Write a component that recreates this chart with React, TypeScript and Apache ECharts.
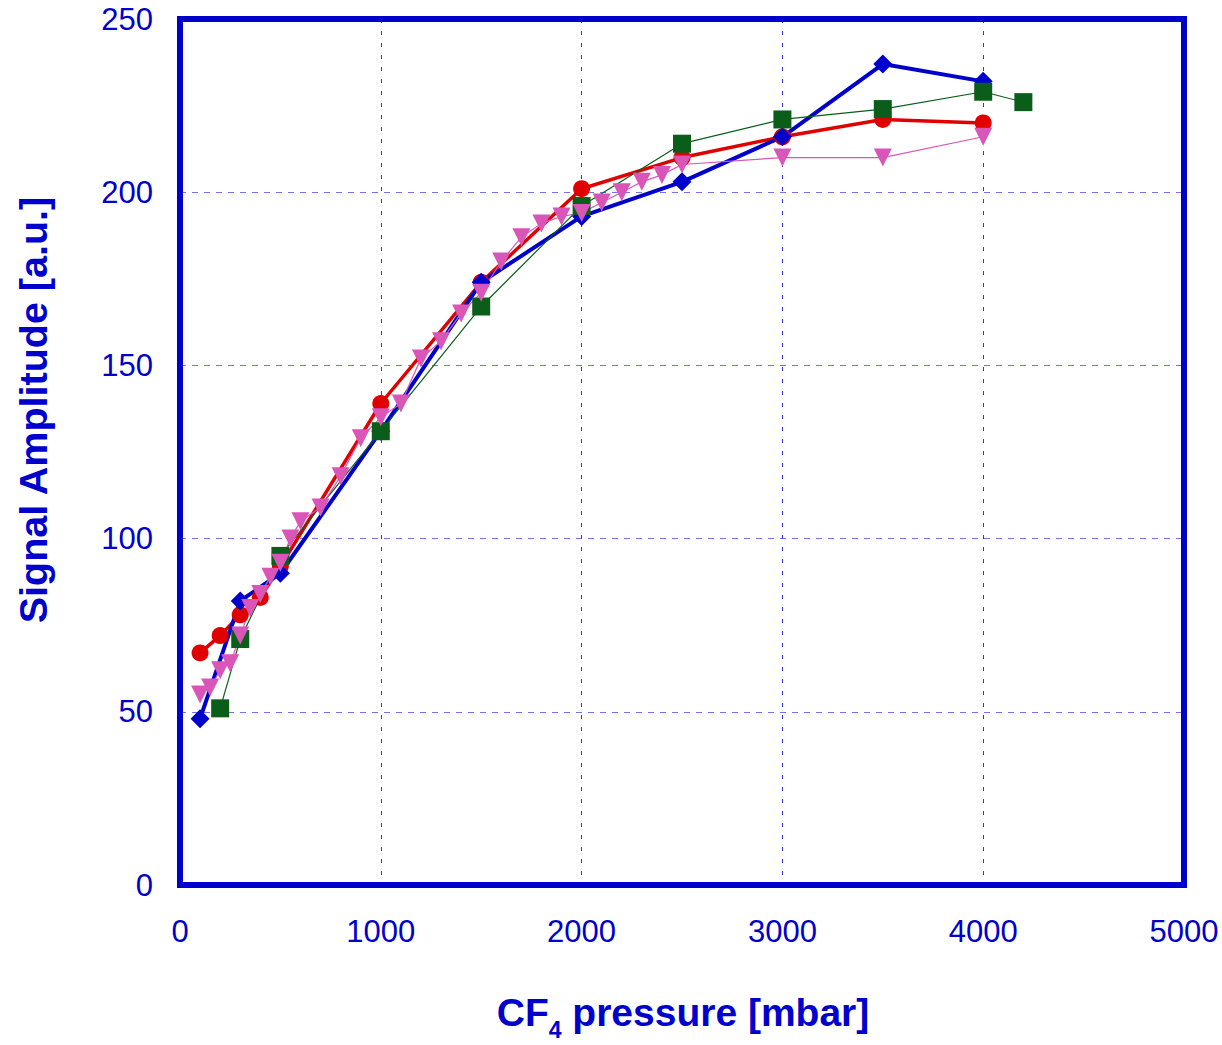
import React, { useEffect, useRef } from "react";
import * as echarts from "echarts";

const blueX = [100, 300, 500, 1000, 1500, 2000, 2500, 3000, 3500, 4000];
const blueY = [48, 82, 90, 131, 174, 193, 203, 216, 237, 232];

const redX = [100, 200, 300, 400, 500, 1000, 1500, 2000, 2500, 3000, 3500, 4000];
const redY = [67, 72, 78, 83, 92, 139, 174, 201, 210, 216, 221, 220];

const greenX = [200, 300, 500, 1000, 1500, 2000, 2500, 3000, 3500, 4000, 4200];
const greenY = [51, 71, 95, 131, 167, 196, 214, 221, 224, 229, 226];

const pinkX = [100, 150, 200, 250, 300, 350, 400, 450, 500, 550, 600, 700, 800, 900, 1000, 1100, 1200, 1300, 1400, 1500, 1600, 1700, 1800, 1900, 2000, 2100, 2200, 2300, 2400, 2500, 3000, 3500, 4000];
const pinkY = [55, 57, 62, 64, 72, 80, 84, 89, 93, 100, 105, 109, 118, 129, 135, 139, 152, 157, 165, 171, 180, 187, 191, 193, 194, 197, 200, 203, 205, 208, 210, 210, 216];

const xTitleMain = "CF";
const xTitleSub = "4";
const xTitleRest = " pressure [mbar]";
const yTitle = "Signal Amplitude [a.u.]";

const FONT = "'Liberation Sans', Arial, sans-serif";
const TXT = "#0000CC";

const zip = (xs: number[], ys: number[]) => xs.map((x, i) => [x, ys[i]]);

export default function App() {
  const ref = useRef<HTMLDivElement>(null);
  useEffect(() => {
    if (!ref.current) return;
    const chart = echarts.init(ref.current, undefined, { renderer: "svg" });
    chart.setOption({
      animation: false,
      backgroundColor: "#ffffff",
      grid: {
        left: 180,
        right: 38,
        top: 19,
        bottom: 160,
        show: true,
        borderColor: "#0000CC",
        borderWidth: 6,
        z: 10,
      },
      xAxis: {
        type: "value",
        min: 0,
        max: 5000,
        interval: 1000,
        axisLine: { show: false },
        axisTick: { show: false },
        axisLabel: {
          fontFamily: FONT,
          fontSize: 31,
          color: TXT,
          margin: 31,
          formatter: (v: number) => String(v),
        },
        splitLine: { show: true, lineStyle: { color: "#3333e6", width: 1, type: [4, 8] } },
      },
      yAxis: {
        type: "value",
        min: 0,
        max: 250,
        interval: 50,
        axisLine: { show: false },
        axisTick: { show: false },
        axisLabel: { fontFamily: FONT, fontSize: 31, color: TXT, margin: 27 },
        splitLine: { show: true, lineStyle: { color: "#7373f0", width: 1, type: [6, 6] } },
      },
      graphic: [
        {
          type: "text",
          x: 683,
          y: 1012,
          style: {
            text: `{a|${xTitleMain}}{s|${xTitleSub}}{a|${xTitleRest}}`,
            align: "center",
            verticalAlign: "middle",
            rich: {
              a: { fontFamily: FONT, fontSize: 39, fontWeight: "bold", fill: TXT, color: TXT, verticalAlign: "middle", lineHeight: 58 },
              s: { fontFamily: FONT, fontSize: 23, fontWeight: "bold", fill: TXT, color: TXT, verticalAlign: "bottom", lineHeight: 58 },
            },
          },
        },
        {
          type: "text",
          x: 33,
          y: 410,
          rotation: Math.PI / 2,
          style: {
            text: yTitle,
            fontFamily: FONT,
            fontSize: 39.5,
            fontWeight: "bold",
            fill: TXT,
            align: "center",
            verticalAlign: "middle",
          },
        },
      ],
      series: [
        {
          type: "line",
          data: zip(redX, redY),
          symbol: "circle",
          symbolSize: 17,
          itemStyle: { color: "#E00000" },
          lineStyle: { color: "#E00000", width: 3.5 },
        },
        {
          type: "line",
          data: zip(blueX, blueY),
          symbol: "diamond",
          symbolSize: 19,
          itemStyle: { color: "#0000CC" },
          lineStyle: { color: "#0000CC", width: 4 },
        },
        {
          type: "line",
          data: zip(greenX, greenY),
          symbol: "rect",
          symbolSize: 18,
          itemStyle: { color: "#0A5E1A" },
          lineStyle: { color: "#0A5E1A", width: 1.2 },
        },
        {
          type: "line",
          data: zip(pinkX, pinkY),
          symbol: "triangle",
          symbolRotate: 180,
          symbolSize: 18,
          itemStyle: { color: "#DA55B8" },
          lineStyle: { color: "#DA55B8", width: 1.2 },
        },
      ],
    });
    return () => chart.dispose();
  }, []);
  return (
    <div
      ref={ref}
      style={{ position: "absolute", left: 0, top: 0, width: 1222, height: 1045 }}
    />
  );
}
